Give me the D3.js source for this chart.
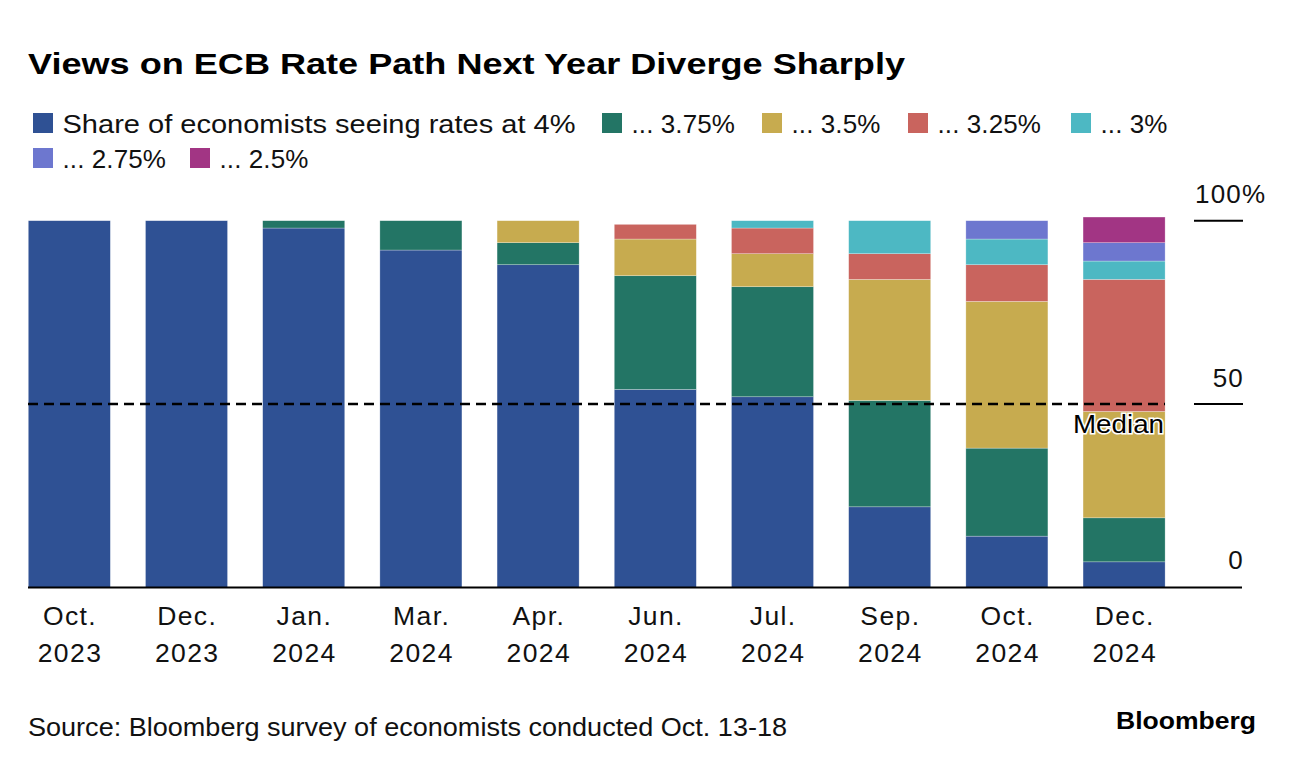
<!DOCTYPE html>
<html>
<head>
<meta charset="utf-8">
<script src="https://cdn.jsdelivr.net/npm/d3@7"></script>
<style>
  html, body { margin: 0; padding: 0; background: #fff; }
  svg { display: block; font-family: "Liberation Sans", Arial, Helvetica, sans-serif; }
</style>
</head>
<body>
<svg id="chart" width="1296" height="768"></svg>
<script>
// ---- Data ----
const months = ["Oct.", "Dec.", "Jan.", "Mar.", "Apr.", "Jun.", "Jul.", "Sep.", "Oct.", "Dec."];
const years  = ["2023", "2023", "2024", "2024", "2024", "2024", "2024", "2024", "2024", "2024"];
const seriesNames = ["Share of economists seeing rates at 4%", "... 3.75%", "... 3.5%", "... 3.25%", "... 3%", "... 2.75%", "... 2.5%"];
const rate400 = [100, 100, 98, 92, 88, 54, 52, 22, 14, 7];
const rate375 = [0, 0, 2, 8, 6, 31, 30, 29, 24, 12];
const rate350 = [0, 0, 0, 0, 6, 10, 9, 33, 40, 29];
const rate325 = [0, 0, 0, 0, 0, 4, 7, 7, 10, 36];
const rate300 = [0, 0, 0, 0, 0, 0, 2, 9, 7, 5];
const rate275 = [0, 0, 0, 0, 0, 0, 0, 0, 5, 5];
const rate250 = [0, 0, 0, 0, 0, 0, 0, 0, 0, 7];
const yTicks = [0, 50, 100];
const yTickLabels = ["0", "50", "100%"];
const medianValue = 50;
const colors = ["#2f5194", "#237565", "#c7ab4f", "#c9645e", "#4db8c3", "#6d77cf", "#a23584"];

const seriesValues = [rate400, rate375, rate350, rate325, rate300, rate275, rate250];
const keys = seriesValues.map((_, i) => "s" + i);
const table = months.map((m, i) => {
  const row = { idx: i };
  keys.forEach((k, j) => row[k] = seriesValues[j][i]);
  return row;
});

// ---- Layout ----
const svg = d3.select("#chart");
const x = d3.scaleBand().domain(d3.range(months.length)).range([28.3, 1165.1]).paddingInner(0.3).paddingOuter(0);
const y = d3.scaleLinear().domain([0, 100]).range([587.5, 220.7]);

// Title
svg.append("text").attr("x", 28).attr("y", 74)
  .attr("font-size", 30).attr("font-weight", "bold").attr("fill", "#000")
  .attr("textLength", 877).attr("lengthAdjust", "spacingAndGlyphs")
  .text("Views on ECB Rate Path Next Year Diverge Sharply");

// Legend
const legendPos = [
  [33, 113], [602, 113], [762, 113], [908, 113], [1071, 113],
  [33, 148], [190, 148]
];
const lg = svg.append("g");
seriesNames.forEach((name, i) => {
  const [lx, ly] = legendPos[i];
  lg.append("rect").attr("x", lx).attr("y", ly).attr("width", 20).attr("height", 20).attr("fill", colors[i]);
  const t = lg.append("text").attr("x", lx + 29.5).attr("y", ly + 20).attr("font-size", 26).attr("fill", "#111")
    .attr("letter-spacing", 0.1).text(name);
  if (i === 0) t.attr("letter-spacing", null).attr("textLength", 513).attr("lengthAdjust", "spacingAndGlyphs");
});

// Bars
const stacked = d3.stack().keys(keys)(table);
svg.append("g").selectAll("g").data(stacked).join("g")
  .attr("fill", (d, i) => colors[i])
  .selectAll("rect").data(d => d.filter(p => p[1] - p[0] > 0)).join("rect")
  .attr("x", d => x(d.data.idx))
  .attr("width", x.bandwidth())
  .attr("y", d => y(d[1]))
  .attr("height", d => y(d[0]) - y(d[1]))
  .attr("stroke", "#ffffff").attr("stroke-opacity", 0.45).attr("stroke-width", 0.6);

// Baseline
svg.append("line").attr("x1", 28).attr("x2", 1242).attr("y1", y(0)).attr("y2", y(0))
  .attr("stroke", "#000").attr("stroke-width", 2);

// Right-side y ticks
yTicks.forEach((t, i) => {
  if (t > 0) {
    svg.append("line").attr("x1", 1194).attr("x2", 1243).attr("y1", y(t)).attr("y2", y(t))
      .attr("stroke", "#000").attr("stroke-width", 2);
  }
  const lbl = yTickLabels[i];
  const txt = svg.append("text").attr("y", y(t) - (t === 0 ? 19 : 17.5))
    .attr("font-size", 26).attr("fill", "#111").attr("letter-spacing", 1.2).text(lbl);
  if (lbl.endsWith("%")) txt.attr("x", 1195);
  else txt.attr("x", 1244).attr("text-anchor", "end");
});

// Median dashed line
svg.append("line").attr("x1", 28).attr("x2", 1165).attr("y1", y(medianValue)).attr("y2", y(medianValue))
  .attr("stroke", "#000").attr("stroke-width", 2.5).attr("stroke-dasharray", "10,6");
svg.append("text").attr("x", 1073).attr("y", y(medianValue) + 29)
  .attr("font-size", 26).attr("fill", "#000")
  .attr("textLength", 91).attr("lengthAdjust", "spacingAndGlyphs")
  .attr("stroke", "#fff").attr("stroke-width", 3).attr("paint-order", "stroke")
  .text("Median");

// X labels
const xl = svg.append("g");
months.forEach((m, i) => {
  const cx = x(i) + x.bandwidth() / 2 + 0.7;
  xl.append("text").attr("x", cx).attr("y", 625).attr("text-anchor", "middle").attr("font-size", 26.5)
    .attr("letter-spacing", 1.4).attr("fill", "#111").text(m);
  xl.append("text").attr("x", cx).attr("y", 662).attr("text-anchor", "middle").attr("font-size", 26.5)
    .attr("letter-spacing", 1.4).attr("fill", "#111").text(years[i]);
});

// Footer
svg.append("text").attr("x", 28).attr("y", 736).attr("font-size", 25).attr("fill", "#111")
  .attr("textLength", 759).attr("lengthAdjust", "spacingAndGlyphs")
  .text("Source: Bloomberg survey of economists conducted Oct. 13-18");
svg.append("text").attr("x", 1116).attr("y", 729)
  .attr("font-size", 24).attr("font-weight", "bold").attr("fill", "#000")
  .attr("textLength", 140).attr("lengthAdjust", "spacingAndGlyphs")
  .text("Bloomberg");
</script>
</body>
</html>
